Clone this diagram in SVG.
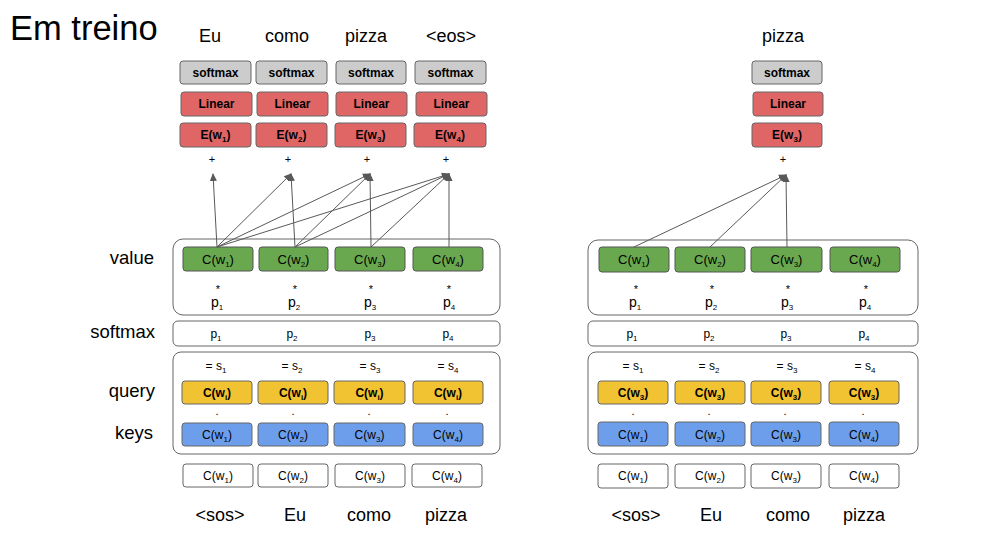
<svg xmlns="http://www.w3.org/2000/svg" width="981" height="548" viewBox="0 0 981 548">
<style>
text{font-family:"Liberation Sans",Arial,sans-serif;fill:#000}
.t{font-size:34.5px}
.w{font-size:18px;text-anchor:middle}
.lbl{font-size:18.5px;text-anchor:end}
.sm{fill:#cccccc;stroke:#666;stroke-width:1}
.rd{fill:#e06666;stroke:#666;stroke-width:1}
.gr{fill:#6aa84f;stroke:#555;stroke-width:1}
.ye{fill:#f1c232;stroke:#666;stroke-width:1}
.bl{fill:#6d9eeb;stroke:#666;stroke-width:1}
.wh{fill:#fff;stroke:#666;stroke-width:1}
.grp{fill:#fff;stroke:#666;stroke-width:1}
.bt{font-size:12px;font-weight:bold;text-anchor:middle}
.nt{font-size:13px;text-anchor:middle}
.st{font-size:12px;text-anchor:middle}
.sb{font-size:8px}
.op{font-size:11px;text-anchor:middle}
.pp{font-size:14px;text-anchor:middle}
.conn line{stroke:#595959;stroke-width:1}
</style>
<defs>
<marker id="ah" markerWidth="8" markerHeight="8" refX="7" refY="4" orient="auto" markerUnits="userSpaceOnUse">
<path d="M0,0.5 L8,4 L0,7.5 Z" fill="#595959"/>
</marker>
</defs>

<text class="t" x="10" y="40">Em treino</text>

<g id="labels">
<text class="lbl" x="154" y="264">value</text>
<text class="lbl" x="155" y="338">softmax</text>
<text class="lbl" x="155" y="397">query</text>
<text class="lbl" x="153" y="439">keys</text>
</g>

<!-- LEFT PANEL -->
<g id="out-words-left">
<text class="w" x="210" y="42">Eu</text>
<text class="w" x="287" y="42">como</text>
<text class="w" x="366" y="42">pizza</text>
<text class="w" x="451" y="42">&lt;eos&gt;</text>
</g>

<g id="head1">
<rect class="sm" x="180" y="61" width="71" height="23" rx="3"/><text class="bt" x="215.5" y="77">softmax</text>
<rect class="rd" x="181" y="92" width="71" height="24" rx="3"/><text class="bt" x="216.5" y="108">Linear</text>
<rect class="rd" x="180" y="123" width="71" height="24" rx="3"/><text class="bt" x="215.5" y="139">E(w<tspan class="sb" dy="3">1</tspan><tspan dy="-3">)</tspan></text>
<text class="op" x="212" y="163">+</text>
</g>
<g id="head2">
<rect class="sm" x="256" y="61" width="71" height="23" rx="3"/><text class="bt" x="291.5" y="77">softmax</text>
<rect class="rd" x="257" y="92" width="71" height="24" rx="3"/><text class="bt" x="292.5" y="108">Linear</text>
<rect class="rd" x="256" y="123" width="71" height="24" rx="3"/><text class="bt" x="291.5" y="139">E(w<tspan class="sb" dy="3">2</tspan><tspan dy="-3">)</tspan></text>
<text class="op" x="288" y="163">+</text>
</g>
<g id="head3">
<rect class="sm" x="336" y="61" width="70" height="23" rx="3"/><text class="bt" x="371" y="77">softmax</text>
<rect class="rd" x="336" y="92" width="71" height="24" rx="3"/><text class="bt" x="371.5" y="108">Linear</text>
<rect class="rd" x="335" y="123" width="71" height="24" rx="3"/><text class="bt" x="370.5" y="139">E(w<tspan class="sb" dy="3">3</tspan><tspan dy="-3">)</tspan></text>
<text class="op" x="367" y="163">+</text>
</g>
<g id="head4">
<rect class="sm" x="415" y="61" width="71" height="23" rx="3"/><text class="bt" x="450.5" y="77">softmax</text>
<rect class="rd" x="416" y="92" width="71" height="24" rx="3"/><text class="bt" x="451.5" y="108">Linear</text>
<rect class="rd" x="414" y="123" width="72" height="24" rx="3"/><text class="bt" x="450" y="139">E(w<tspan class="sb" dy="3">4</tspan><tspan dy="-3">)</tspan></text>
<text class="op" x="446" y="163">+</text>
</g>

<g id="value-left">
<rect class="grp" x="173" y="239" width="327" height="76" rx="10"/>
<rect class="gr" x="183" y="247" width="70" height="24" rx="3"/><text class="nt" x="218" y="264">C(w<tspan class="sb" dy="3">1</tspan><tspan dy="-3">)</tspan></text>
<rect class="gr" x="259" y="247" width="69" height="24" rx="3"/><text class="nt" x="293.5" y="264">C(w<tspan class="sb" dy="3">2</tspan><tspan dy="-3">)</tspan></text>
<rect class="gr" x="335" y="247" width="70" height="24" rx="3"/><text class="nt" x="370" y="264">C(w<tspan class="sb" dy="3">3</tspan><tspan dy="-3">)</tspan></text>
<rect class="gr" x="413" y="247" width="70" height="24" rx="3"/><text class="nt" x="448" y="264">C(w<tspan class="sb" dy="3">4</tspan><tspan dy="-3">)</tspan></text>
<text class="op" x="218" y="293">*</text><text class="op" x="295" y="293">*</text><text class="op" x="371" y="293">*</text><text class="op" x="449" y="293">*</text>
<text class="pp" x="217" y="307">p<tspan class="sb" dy="3">1</tspan></text>
<text class="pp" x="294" y="307">p<tspan class="sb" dy="3">2</tspan></text>
<text class="pp" x="370" y="307">p<tspan class="sb" dy="3">3</tspan></text>
<text class="pp" x="449" y="307">p<tspan class="sb" dy="3">4</tspan></text>
</g>

<g id="softmax-left">
<rect class="grp" x="173" y="321" width="327" height="25" rx="5"/>
<text class="st" x="216" y="338">p<tspan class="sb" dy="3">1</tspan></text>
<text class="st" x="292" y="338">p<tspan class="sb" dy="3">2</tspan></text>
<text class="st" x="370" y="338">p<tspan class="sb" dy="3">3</tspan></text>
<text class="st" x="448" y="338">p<tspan class="sb" dy="3">4</tspan></text>
</g>

<g id="qk-left">
<rect class="grp" x="173" y="352" width="327" height="102" rx="8"/>
<text class="st" x="216" y="370">= s<tspan class="sb" dy="3">1</tspan></text>
<text class="st" x="292" y="370">= s<tspan class="sb" dy="3">2</tspan></text>
<text class="st" x="370" y="370">= s<tspan class="sb" dy="3">3</tspan></text>
<text class="st" x="448" y="370">= s<tspan class="sb" dy="3">4</tspan></text>
<rect class="ye" x="182" y="381" width="70" height="23" rx="3"/><text class="bt" x="217" y="397">C(w<tspan class="sb" dy="3">i</tspan><tspan dy="-3">)</tspan></text>
<rect class="ye" x="258" y="381" width="70" height="23" rx="3"/><text class="bt" x="293" y="397">C(w<tspan class="sb" dy="3">i</tspan><tspan dy="-3">)</tspan></text>
<rect class="ye" x="334" y="381" width="71" height="23" rx="3"/><text class="bt" x="369.5" y="397">C(w<tspan class="sb" dy="3">i</tspan><tspan dy="-3">)</tspan></text>
<rect class="ye" x="413" y="381" width="70" height="23" rx="3"/><text class="bt" x="448" y="397">C(w<tspan class="sb" dy="3">i</tspan><tspan dy="-3">)</tspan></text>
<text class="op" x="217" y="415">.</text><text class="op" x="293" y="415">.</text><text class="op" x="369" y="415">.</text><text class="op" x="447" y="415">.</text>
<rect class="bl" x="182" y="423" width="70" height="23" rx="3"/><text class="st" x="217" y="439">C(w<tspan class="sb" dy="3">1</tspan><tspan dy="-3">)</tspan></text>
<rect class="bl" x="258" y="423" width="70" height="23" rx="3"/><text class="st" x="293" y="439">C(w<tspan class="sb" dy="3">2</tspan><tspan dy="-3">)</tspan></text>
<rect class="bl" x="334" y="423" width="71" height="23" rx="3"/><text class="st" x="369.5" y="439">C(w<tspan class="sb" dy="3">3</tspan><tspan dy="-3">)</tspan></text>
<rect class="bl" x="413" y="423" width="70" height="23" rx="3"/><text class="st" x="448" y="439">C(w<tspan class="sb" dy="3">4</tspan><tspan dy="-3">)</tspan></text>
</g>

<g id="inputs-left">
<rect class="wh" x="183" y="464" width="70" height="23" rx="3"/><text class="st" x="218" y="480">C(w<tspan class="sb" dy="3">1</tspan><tspan dy="-3">)</tspan></text>
<rect class="wh" x="258" y="464" width="70" height="23" rx="3"/><text class="st" x="293" y="480">C(w<tspan class="sb" dy="3">2</tspan><tspan dy="-3">)</tspan></text>
<rect class="wh" x="335" y="464" width="70" height="23" rx="3"/><text class="st" x="370" y="480">C(w<tspan class="sb" dy="3">3</tspan><tspan dy="-3">)</tspan></text>
<rect class="wh" x="412" y="464" width="70" height="23" rx="3"/><text class="st" x="447" y="480">C(w<tspan class="sb" dy="3">4</tspan><tspan dy="-3">)</tspan></text>
<text class="w" x="220" y="521">&lt;sos&gt;</text>
<text class="w" x="295" y="521">Eu</text>
<text class="w" x="369" y="521">como</text>
<text class="w" x="446" y="521">pizza</text>
</g>

<!-- RIGHT PANEL -->
<g id="out-words-right">
<text class="w" x="783" y="42">pizza</text>
</g>
<g id="head-right">
<rect class="sm" x="752" y="61" width="70" height="23" rx="3"/><text class="bt" x="787" y="77">softmax</text>
<rect class="rd" x="753" y="92" width="70" height="24" rx="3"/><text class="bt" x="788" y="108">Linear</text>
<rect class="rd" x="752" y="123" width="70" height="24" rx="3"/><text class="bt" x="787" y="139">E(w<tspan class="sb" dy="3">3</tspan><tspan dy="-3">)</tspan></text>
<text class="op" x="783" y="163">+</text>
</g>

<g id="value-right">
<rect class="grp" x="588" y="240" width="330" height="75" rx="10"/>
<rect class="gr" x="599" y="247" width="70" height="25" rx="3"/><text class="nt" x="634" y="264">C(w<tspan class="sb" dy="3">1</tspan><tspan dy="-3">)</tspan></text>
<rect class="gr" x="675" y="247" width="70" height="25" rx="3"/><text class="nt" x="710" y="264">C(w<tspan class="sb" dy="3">2</tspan><tspan dy="-3">)</tspan></text>
<rect class="gr" x="751" y="247" width="71" height="25" rx="3"/><text class="nt" x="786.5" y="264">C(w<tspan class="sb" dy="3">3</tspan><tspan dy="-3">)</tspan></text>
<rect class="gr" x="830" y="247" width="70" height="25" rx="3"/><text class="nt" x="865" y="264">C(w<tspan class="sb" dy="3">4</tspan><tspan dy="-3">)</tspan></text>
<text class="op" x="636" y="293">*</text><text class="op" x="712" y="293">*</text><text class="op" x="788" y="293">*</text><text class="op" x="866" y="293">*</text>
<text class="pp" x="635" y="307">p<tspan class="sb" dy="3">1</tspan></text>
<text class="pp" x="711" y="307">p<tspan class="sb" dy="3">2</tspan></text>
<text class="pp" x="787" y="307">p<tspan class="sb" dy="3">3</tspan></text>
<text class="pp" x="865" y="307">p<tspan class="sb" dy="3">4</tspan></text>
</g>

<g id="softmax-right">
<rect class="grp" x="588" y="321" width="330" height="25" rx="5"/>
<text class="st" x="632" y="338">p<tspan class="sb" dy="3">1</tspan></text>
<text class="st" x="709" y="338">p<tspan class="sb" dy="3">2</tspan></text>
<text class="st" x="786" y="338">p<tspan class="sb" dy="3">3</tspan></text>
<text class="st" x="864" y="338">p<tspan class="sb" dy="3">4</tspan></text>
</g>

<g id="qk-right">
<rect class="grp" x="588" y="352" width="330" height="102" rx="8"/>
<text class="st" x="633" y="370">= s<tspan class="sb" dy="3">1</tspan></text>
<text class="st" x="709" y="370">= s<tspan class="sb" dy="3">2</tspan></text>
<text class="st" x="787" y="370">= s<tspan class="sb" dy="3">3</tspan></text>
<text class="st" x="865" y="370">= s<tspan class="sb" dy="3">4</tspan></text>
<rect class="ye" x="598" y="381" width="70" height="23" rx="3"/><text class="bt" x="633" y="397">C(w<tspan class="sb" dy="3">3</tspan><tspan dy="-3">)</tspan></text>
<rect class="ye" x="675" y="381" width="70" height="23" rx="3"/><text class="bt" x="710" y="397">C(w<tspan class="sb" dy="3">3</tspan><tspan dy="-3">)</tspan></text>
<rect class="ye" x="751" y="381" width="70" height="23" rx="3"/><text class="bt" x="786" y="397">C(w<tspan class="sb" dy="3">3</tspan><tspan dy="-3">)</tspan></text>
<rect class="ye" x="829" y="381" width="70" height="23" rx="3"/><text class="bt" x="864" y="397">C(w<tspan class="sb" dy="3">3</tspan><tspan dy="-3">)</tspan></text>
<text class="op" x="633" y="415">.</text><text class="op" x="709" y="415">.</text><text class="op" x="785" y="415">.</text><text class="op" x="863" y="415">.</text>
<rect class="bl" x="598" y="422" width="70" height="24" rx="3"/><text class="st" x="633" y="439">C(w<tspan class="sb" dy="3">1</tspan><tspan dy="-3">)</tspan></text>
<rect class="bl" x="675" y="422" width="70" height="24" rx="3"/><text class="st" x="710" y="439">C(w<tspan class="sb" dy="3">2</tspan><tspan dy="-3">)</tspan></text>
<rect class="bl" x="751" y="422" width="70" height="24" rx="3"/><text class="st" x="786" y="439">C(w<tspan class="sb" dy="3">3</tspan><tspan dy="-3">)</tspan></text>
<rect class="bl" x="829" y="422" width="70" height="24" rx="3"/><text class="st" x="864" y="439">C(w<tspan class="sb" dy="3">4</tspan><tspan dy="-3">)</tspan></text>
</g>

<g id="inputs-right">
<rect class="wh" x="598" y="464" width="70" height="24" rx="3"/><text class="st" x="633" y="480">C(w<tspan class="sb" dy="3">1</tspan><tspan dy="-3">)</tspan></text>
<rect class="wh" x="675" y="464" width="70" height="24" rx="3"/><text class="st" x="710" y="480">C(w<tspan class="sb" dy="3">2</tspan><tspan dy="-3">)</tspan></text>
<rect class="wh" x="751" y="464" width="70" height="24" rx="3"/><text class="st" x="786" y="480">C(w<tspan class="sb" dy="3">3</tspan><tspan dy="-3">)</tspan></text>
<rect class="wh" x="829" y="464" width="70" height="24" rx="3"/><text class="st" x="864" y="480">C(w<tspan class="sb" dy="3">4</tspan><tspan dy="-3">)</tspan></text>
<text class="w" x="636" y="521">&lt;sos&gt;</text>
<text class="w" x="711" y="521">Eu</text>
<text class="w" x="788" y="521">como</text>
<text class="w" x="864" y="521">pizza</text>
</g>

<g class="conn" id="connectors">
<line x1="217" y1="247" x2="213" y2="174" marker-end="url(#ah)"/>
<line x1="217" y1="247" x2="291" y2="174" marker-end="url(#ah)"/>
<line x1="295" y1="247" x2="291" y2="174" marker-end="url(#ah)"/>
<line x1="217" y1="247" x2="370" y2="174" marker-end="url(#ah)"/>
<line x1="295" y1="247" x2="370" y2="174" marker-end="url(#ah)"/>
<line x1="371" y1="247" x2="370" y2="174" marker-end="url(#ah)"/>
<line x1="217" y1="247" x2="449" y2="174" marker-end="url(#ah)"/>
<line x1="295" y1="247" x2="449" y2="174" marker-end="url(#ah)"/>
<line x1="371" y1="247" x2="449" y2="174" marker-end="url(#ah)"/>
<line x1="449" y1="247" x2="449" y2="174" marker-end="url(#ah)"/>
<line x1="634" y1="247" x2="786" y2="175" marker-end="url(#ah)"/>
<line x1="710" y1="247" x2="786" y2="175" marker-end="url(#ah)"/>
<line x1="787" y1="247" x2="786" y2="175" marker-end="url(#ah)"/>
</g>
</svg>
